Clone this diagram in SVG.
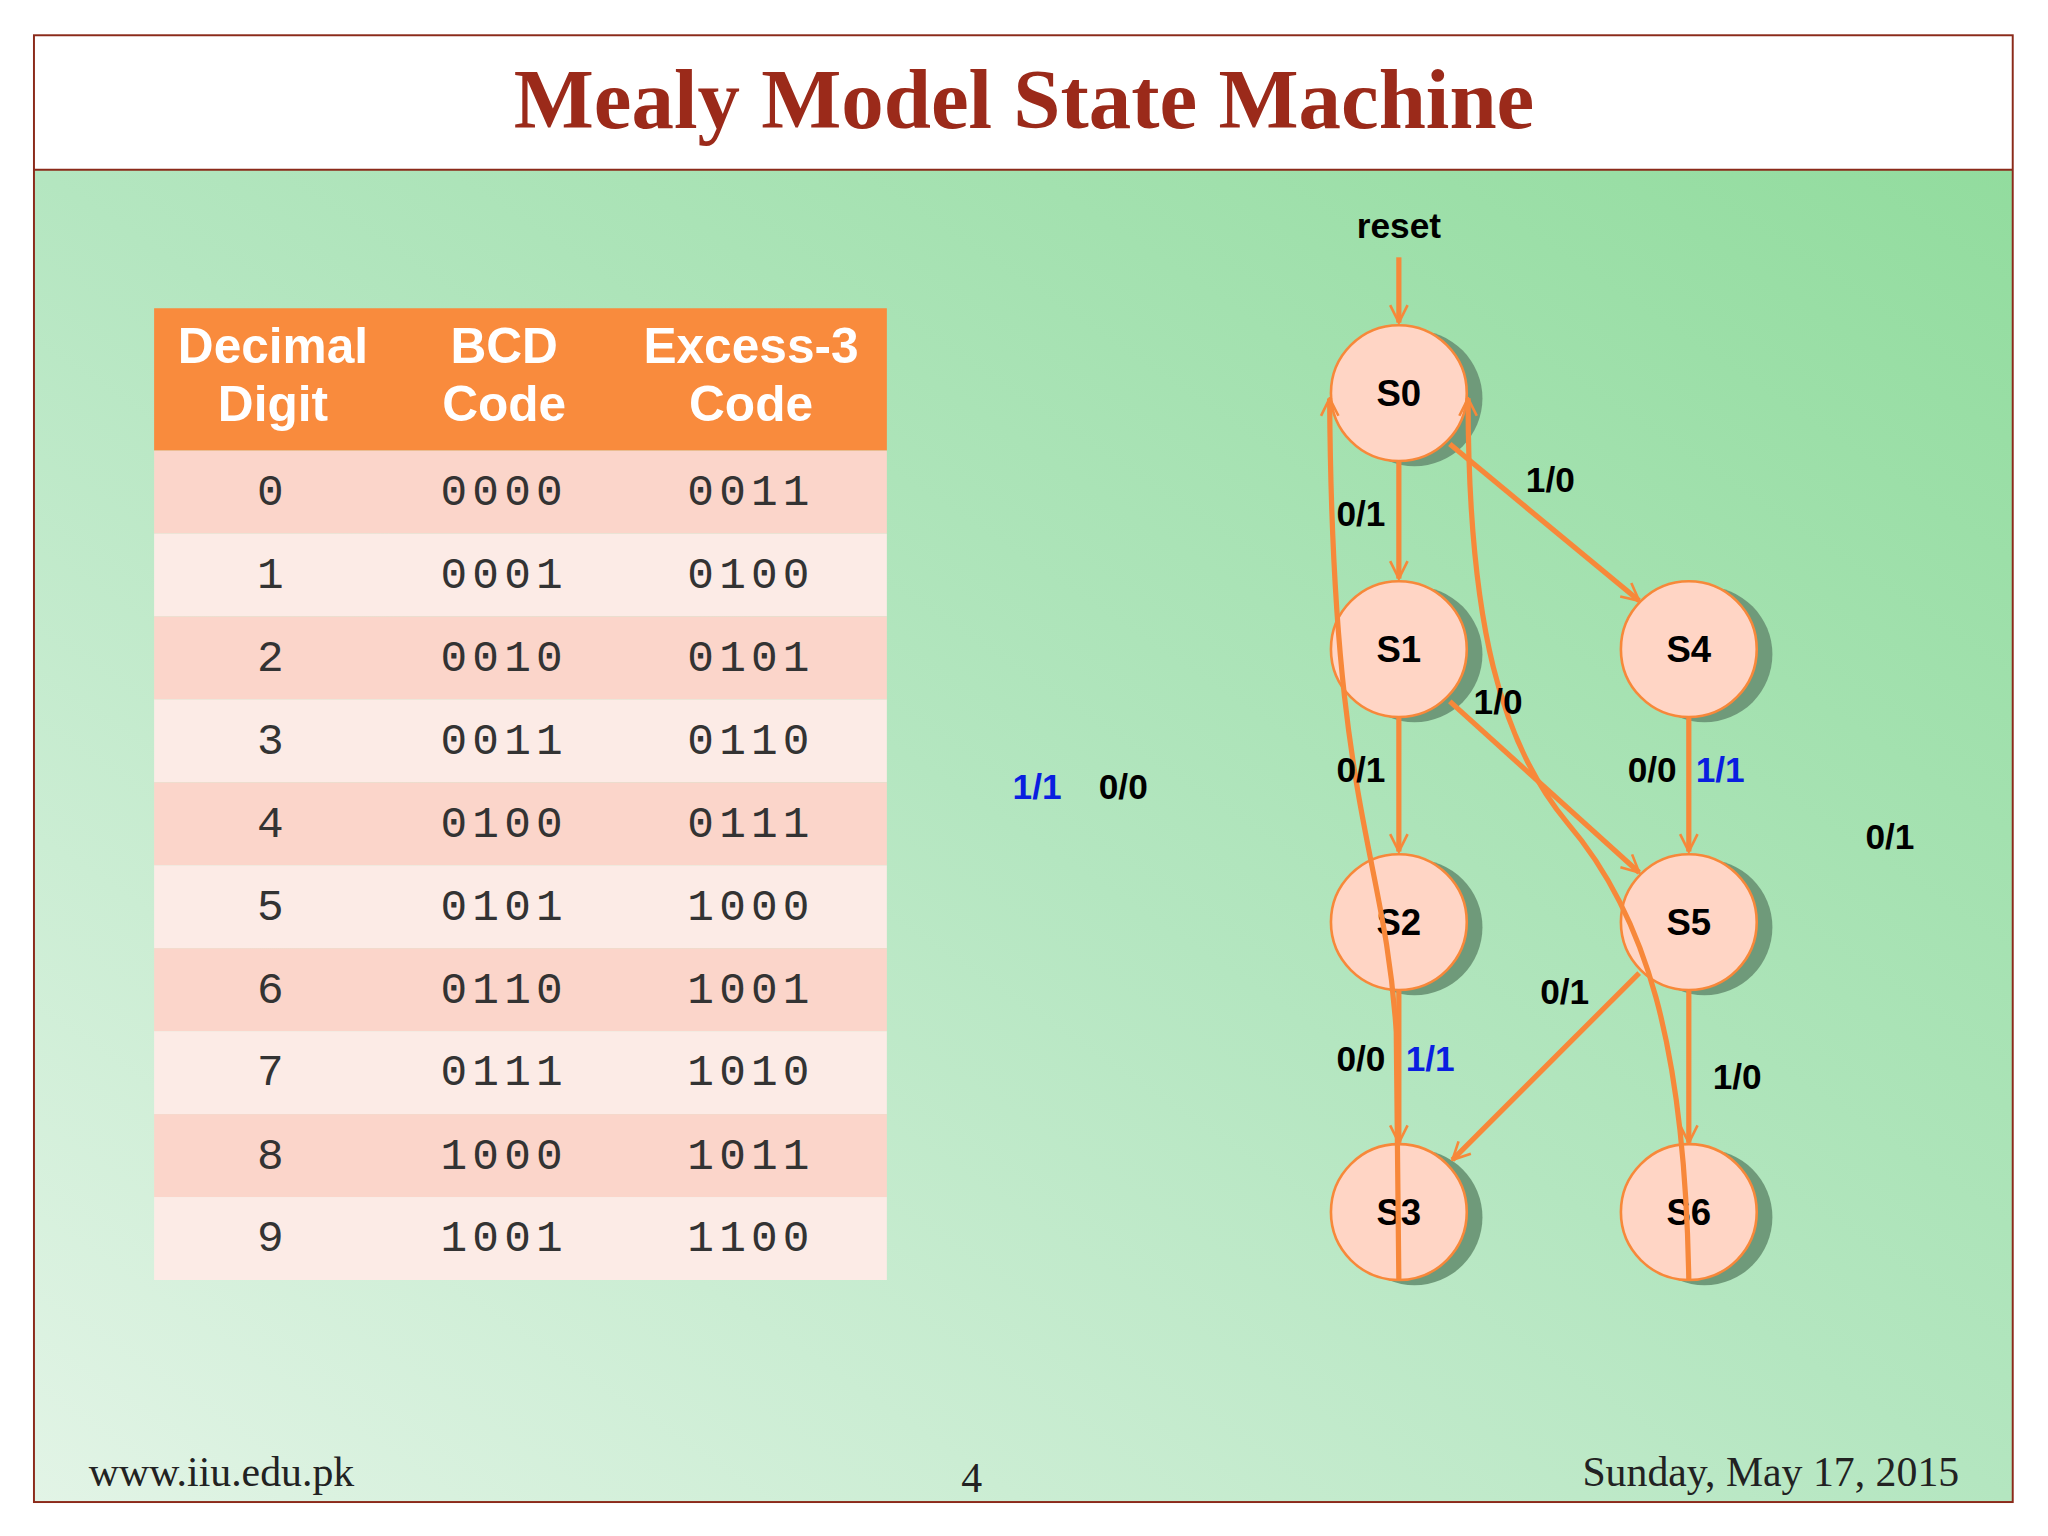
<svg xmlns="http://www.w3.org/2000/svg" width="2048" height="1536" viewBox="0 0 2048 1536">
<defs>
<linearGradient id="bg" x1="0" y1="1" x2="1" y2="0">
<stop offset="0" stop-color="#e2f4e6"/><stop offset="0.5" stop-color="#b4e6c0"/><stop offset="1" stop-color="#92dc9e"/>
</linearGradient>
<marker id="ah" viewBox="0 0 12 12" refX="11" refY="6" markerWidth="16" markerHeight="16" orient="auto" markerUnits="userSpaceOnUse">
<path d="M1,1 L11,6 L1,11" fill="none" stroke="#F7883A" stroke-width="1.5"/>
</marker>
<style>
.e{fill:none;stroke:#F7883A;stroke-width:4;marker-end:url(#ah)}
.nd{fill:#FFD5C5;stroke:#F7883A;stroke-width:2}
.sh{fill:#6f9a7a}
.nt{font-family:"Liberation Sans",Arial,sans-serif;font-weight:bold;font-size:28px;text-anchor:middle;fill:#000}
.lb{font-family:"Liberation Sans",Arial,sans-serif;font-weight:bold;font-size:27px;text-anchor:middle;fill:#000}
.bl{fill:#0a1ee0}
.th{font-family:"Liberation Sans",Arial,sans-serif;font-weight:bold;font-size:38px;text-anchor:middle;fill:#fff}
.td{font-family:"Liberation Mono","Courier New",monospace;font-size:34px;text-anchor:middle;fill:#333;letter-spacing:4px}
.ft{font-family:"Liberation Serif","Times New Roman",serif;font-size:32px;fill:#222}
</style>
</defs>
<g transform="scale(1.30612)">
<rect x="0" y="0" width="1568" height="1176" fill="#fff"/>
<rect x="26" y="130" width="1515" height="1020" fill="url(#bg)"/>
<rect x="26" y="27" width="1515" height="1123" fill="none" stroke="#8B2a1a" stroke-width="1.5"/>
<line x1="26" y1="130" x2="1541" y2="130" stroke="#8B2a1a" stroke-width="1.5"/>
<text x="784" y="98" font-family="Liberation Serif,Times New Roman,serif" font-weight="bold" font-size="65" fill="#9B2a1a" text-anchor="middle">Mealy Model State Machine</text>
<g id="table">
<rect x="118" y="236" width="561" height="109" fill="#F98B3D"/>
<text class="th" x="209" y="278">Decimal</text><text class="th" x="209" y="322">Digit</text>
<text class="th" x="386" y="278">BCD</text><text class="th" x="386" y="322">Code</text>
<text class="th" x="575" y="278">Excess-3</text><text class="th" x="575" y="322">Code</text>
<rect x="118" y="345" width="561" height="63.5" fill="#FBD5CA"/>
<rect x="118" y="408.5" width="561" height="63.5" fill="#FCEBE6"/>
<rect x="118" y="472" width="561" height="63.5" fill="#FBD5CA"/>
<rect x="118" y="535.5" width="561" height="63.5" fill="#FCEBE6"/>
<rect x="118" y="599" width="561" height="63.5" fill="#FBD5CA"/>
<rect x="118" y="662.5" width="561" height="63.5" fill="#FCEBE6"/>
<rect x="118" y="726" width="561" height="63.5" fill="#FBD5CA"/>
<rect x="118" y="789.5" width="561" height="63.5" fill="#FCEBE6"/>
<rect x="118" y="853" width="561" height="63.5" fill="#FBD5CA"/>
<rect x="118" y="916.5" width="561" height="63.5" fill="#FCEBE6"/>
<g class="td">
<text x="209" y="387">0</text><text x="386" y="387">0000</text><text x="575" y="387">0011</text>
<text x="209" y="450">1</text><text x="386" y="450">0001</text><text x="575" y="450">0100</text>
<text x="209" y="514">2</text><text x="386" y="514">0010</text><text x="575" y="514">0101</text>
<text x="209" y="577">3</text><text x="386" y="577">0011</text><text x="575" y="577">0110</text>
<text x="209" y="641">4</text><text x="386" y="641">0100</text><text x="575" y="641">0111</text>
<text x="209" y="704">5</text><text x="386" y="704">0101</text><text x="575" y="704">1000</text>
<text x="209" y="768">6</text><text x="386" y="768">0110</text><text x="575" y="768">1001</text>
<text x="209" y="831">7</text><text x="386" y="831">0111</text><text x="575" y="831">1010</text>
<text x="209" y="895">8</text><text x="386" y="895">1000</text><text x="575" y="895">1011</text>
<text x="209" y="958">9</text><text x="386" y="958">1001</text><text x="575" y="958">1100</text>
</g>
</g>
<text class="lb bl" x="794" y="612">1/1</text><text class="lb" x="860" y="612">0/0</text>
<text class="lb" x="1447" y="650">0/1</text>
<text class="lb" x="1071" y="182">reset</text>
<g id="S0"><ellipse class="sh" cx="1083" cy="305" rx="52" ry="52"/><ellipse class="nd" cx="1071" cy="301" rx="52" ry="52"/><text class="nt" x="1071" y="311">S0</text></g>
<g id="S1"><ellipse class="sh" cx="1083" cy="501" rx="52" ry="52"/><ellipse class="nd" cx="1071" cy="497" rx="52" ry="52"/><text class="nt" x="1071" y="507">S1</text></g>
<g id="S4"><ellipse class="sh" cx="1305" cy="501" rx="52" ry="52"/><ellipse class="nd" cx="1293" cy="497" rx="52" ry="52"/><text class="nt" x="1293" y="507">S4</text></g>
<g id="S2"><ellipse class="sh" cx="1083" cy="710" rx="52" ry="52"/><ellipse class="nd" cx="1071" cy="706" rx="52" ry="52"/><text class="nt" x="1071" y="716">S2</text></g>
<g id="S5"><ellipse class="sh" cx="1305" cy="710" rx="52" ry="52"/><ellipse class="nd" cx="1293" cy="706" rx="52" ry="52"/><text class="nt" x="1293" y="716">S5</text></g>
<g id="S3"><ellipse class="sh" cx="1083" cy="932" rx="52" ry="52"/><ellipse class="nd" cx="1071" cy="928" rx="52" ry="52"/><text class="nt" x="1071" y="938">S3</text></g>
<g id="S6"><ellipse class="sh" cx="1305" cy="932" rx="52" ry="52"/><ellipse class="nd" cx="1293" cy="928" rx="52" ry="52"/><text class="nt" x="1293" y="938">S6</text></g>
<g id="connectors">
<path class="e" d="M1071,197 L1071,247"/>
<path class="e" d="M1071,353 L1071,443"/>
<path class="e" d="M1110,340 L1255,460"/>
<path class="e" d="M1071,549 L1071,652"/>
<path class="e" d="M1110,537 L1255,668"/>
<path class="e" d="M1293,549 L1293,652"/>
<path class="e" d="M1071,758 L1071,875"/>
<path class="e" d="M1255,745 L1112,888"/>
<path class="e" d="M1293,758 L1293,875"/>
<path class="e" d="M1071,980 L1069,790 C1060,650 1020,620 1018,305"/>
<path class="e" d="M1293,980 C1290,800 1260,700 1200,630 C1150,570 1124,480 1124,305"/>
</g>
<text class="lb" x="1042" y="403">0/1</text>
<text class="lb" x="1187" y="377">1/0</text>
<text class="lb" x="1042" y="599">0/1</text>
<text class="lb" x="1147" y="547">1/0</text>
<text class="lb" x="1265" y="599">0/0</text><text class="lb bl" x="1317" y="599">1/1</text>
<text class="lb" x="1042" y="820">0/0</text><text class="lb bl" x="1095" y="820">1/1</text>
<text class="lb" x="1198" y="769">0/1</text>
<text class="lb" x="1330" y="834">1/0</text>
<text class="ft" x="68" y="1138">www.iiu.edu.pk</text>
<text class="ft" x="744" y="1142" text-anchor="middle">4</text>
<text class="ft" x="1500" y="1138" text-anchor="end">Sunday, May 17, 2015</text>
</g>
</svg>
